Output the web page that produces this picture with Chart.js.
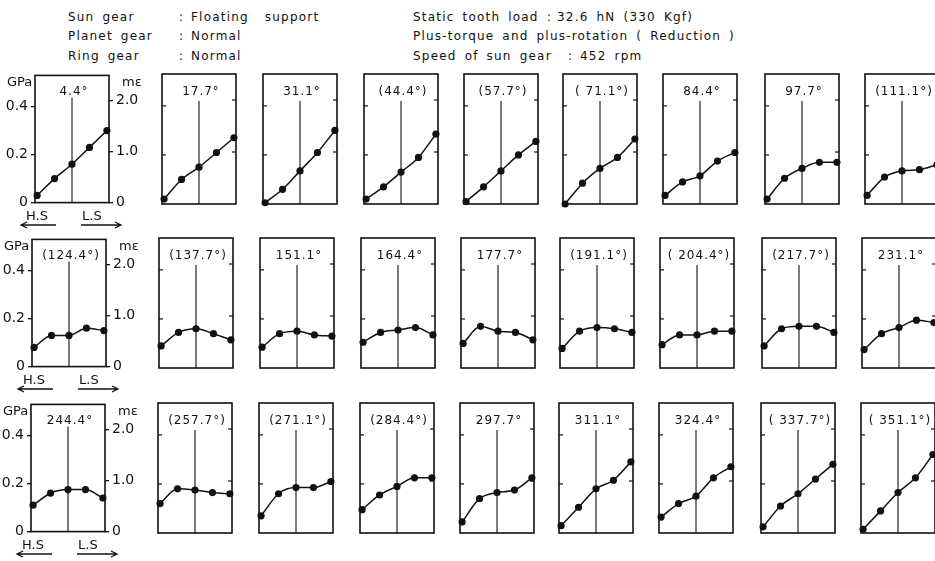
<!DOCTYPE html>
<html>
<head>
<meta charset="utf-8">
<script src="https://cdn.jsdelivr.net/npm/chart.js@4/dist/chart.umd.min.js"></script>
<style>
  html, body { margin:0; padding:0; background:#fff; }
  body { width:935px; height:561px; overflow:hidden; position:relative;
         font-family:"DejaVu Sans", sans-serif; color:#111; }
  .t { position:absolute; white-space:pre; font-size:12px; letter-spacing:1.2px; word-spacing:3px; line-height:14px; }
  .panel { position:absolute; }
  .ttl { position:absolute; white-space:pre; font-size:12px; letter-spacing:1px; line-height:14px;
         transform:translate(-50%,-50%); }
  .ax { position:absolute; white-space:pre; font-size:13px; line-height:14px; }
  svg { position:absolute; left:0; top:0; }
</style>
</head>
<body>
<svg id="arrows" width="935" height="561"></svg>
<script>
// Measuring points across the tooth root, from H.S side to L.S side
const positions = [0, 1, 2, 3, 4];

// Tick values of the two vertical scales
const gpaTicks = [0, 0.2, 0.4];
const strainTicks = [0, 1.0, 2.0];

// Rotation angle of the sun gear for each panel
const row1Angles = ["4.4°", "17.7°", "31.1°", "(44.4°)", "(57.7°)", "( 71.1°)", "84.4°", "97.7°", "(111.1°)"];
const row2Angles = ["(124.4°)", "(137.7°)", "151.1°", "164.4°", "177.7°", "(191.1°)", "( 204.4°)", "(217.7°)", "231.1°"];
const row3Angles = ["244.4°", "(257.7°)", "(271.1°)", "(284.4°)", "297.7°", "311.1°", "324.4°", "( 337.7°)", "( 351.1°)"];

// Root stress (GPa) at the five measuring points
const row1Stress = [
  [0.03, 0.10, 0.16, 0.23, 0.30],
  [0.02, 0.10, 0.15, 0.21, 0.27],
  [0.005, 0.06, 0.135, 0.21, 0.30],
  [0.02, 0.07, 0.13, 0.19, 0.285],
  [0.01, 0.07, 0.135, 0.20, 0.255],
  [0.0, 0.085, 0.145, 0.19, 0.265],
  [0.035, 0.09, 0.115, 0.175, 0.21],
  [0.02, 0.105, 0.145, 0.17, 0.17],
  [0.035, 0.11, 0.135, 0.14, 0.16]
];
const row2Stress = [
  [0.08, 0.13, 0.13, 0.16, 0.15],
  [0.09, 0.145, 0.16, 0.14, 0.115],
  [0.085, 0.14, 0.15, 0.135, 0.13],
  [0.105, 0.145, 0.155, 0.165, 0.135],
  [0.10, 0.17, 0.15, 0.145, 0.115],
  [0.08, 0.15, 0.165, 0.16, 0.145],
  [0.095, 0.135, 0.135, 0.15, 0.15],
  [0.09, 0.16, 0.17, 0.17, 0.145],
  [0.075, 0.14, 0.165, 0.195, 0.185]
];
const row3Stress = [
  [0.11, 0.16, 0.175, 0.175, 0.14],
  [0.12, 0.18, 0.175, 0.165, 0.16],
  [0.07, 0.16, 0.185, 0.185, 0.21],
  [0.095, 0.155, 0.19, 0.225, 0.225],
  [0.045, 0.14, 0.165, 0.175, 0.225],
  [0.03, 0.105, 0.18, 0.215, 0.29],
  [0.065, 0.12, 0.15, 0.225, 0.27],
  [0.025, 0.11, 0.16, 0.22, 0.28],
  [0.015, 0.09, 0.165, 0.225, 0.32]
];

// Layout of the panel grid
const COL_LEFT = [32, 159, 260, 361, 461, 560, 660, 762, 862];
const ROW_TOP = [74, 238, 403];
const ROW_SHIFT = [3, 0, -1];
const PANEL_W = 74, PANEL_H = 130, PAD = 10;
const FONT = "DejaVu Sans";

// Header text
const headerItems = [
  ["Sun gear", 68, 17], [":", 179, 17], ["Floating  support", 191, 17],
  ["Planet gear", 68, 36], [":", 179, 36], ["Normal", 191, 36],
  ["Ring gear", 68, 56], [":", 179, 56], ["Normal", 191, 56],
  ["Static tooth load", 413, 17], [":", 547, 17], ["32.6 hN (330 Kgf)", 557, 17],
  ["Plus-torque and plus-rotation ( Reduction )", 413, 36],
  ["Speed of sun gear", 413, 56], [":", 568, 56], ["452 rpm", 580, 56]
];
function addText(cls, txt, x, y) {
  const d = document.createElement('div');
  d.className = cls; d.textContent = txt;
  d.style.left = x + 'px'; d.style.top = y + 'px';
  document.body.appendChild(d);
  return d;
}
headerItems.forEach(([s, x, y]) => addText('t', s, x, y - 7));

// Frame, centre line and inner ticks of each panel
const panelFrame = {
  id: 'panelFrame',
  beforeDatasetsDraw(chart, args, opts) {
    const { ctx, chartArea: a, scales } = chart;
    ctx.save();
    ctx.strokeStyle = '#111';
    ctx.lineWidth = 1.6;
    ctx.strokeRect(a.left, a.top, a.right - a.left, a.bottom - a.top);
    const cx = scales.x.getPixelForValue(2);
    ctx.lineWidth = 1.1;
    ctx.beginPath(); ctx.moveTo(cx, a.top + (opts.first ? 22 : 27)); ctx.lineTo(cx, a.bottom); ctx.stroke();
    if (!opts.first) {
      ctx.lineWidth = 1.2;
      gpaTicks.slice(1).forEach(v => {
        const y = scales.y.getPixelForValue(v);
        ctx.beginPath(); ctx.moveTo(a.left, y); ctx.lineTo(a.left + 4, y); ctx.stroke();
      });
      strainTicks.slice(1).forEach(v => {
        const y = scales.y2.getPixelForValue(v);
        ctx.beginPath(); ctx.moveTo(a.right - 4, y); ctx.lineTo(a.right, y); ctx.stroke();
      });
    }
    ctx.restore();
  }
};

function tickLabel(v) { return v === 0 ? '0' : Number(v).toFixed(1); }

function makePanel(row, col, label, values) {
  const L = COL_LEFT[col] + ROW_SHIFT[row];
  const T = ROW_TOP[row];
  const first = col === 0;
  const left = first ? 0 : L - PAD;
  const width = first ? L + PANEL_W + 45 : PANEL_W + 2 * PAD;
  const height = PANEL_H + 2 * PAD;

  const wrap = document.createElement('div');
  wrap.className = 'panel';
  wrap.style.left = left + 'px';
  wrap.style.top = (T - PAD) + 'px';
  const cv = document.createElement('canvas');
  cv.width = width; cv.height = height;
  cv.style.width = width + 'px'; cv.style.height = height + 'px';
  wrap.appendChild(cv);
  document.body.appendChild(wrap);

  const axis = (pos, max, ticksArr, w) => {
    const o = { position: pos, min: 0, max: max, display: first };
    if (first) {
      Object.assign(o, {
        afterFit: s => { s.width = w; },
        afterBuildTicks: s => { s.ticks = ticksArr.map(v => ({ value: v })); },
        ticks: { callback: tickLabel, font: { family: FONT, size: 14 }, color: '#111', padding: 3 },
        grid: { drawOnChartArea: false, drawTicks: true, tickLength: 4, color: '#111', lineWidth: 1.3 },
        border: { display: false }
      });
    }
    return o;
  };

  new Chart(cv, {
    type: 'line',
    data: {
      datasets: [{
        data: positions.map((p, i) => ({ x: p, y: values[i] })),
        borderColor: '#111',
        borderWidth: 1.5,
        pointRadius: 3.6,
        pointBackgroundColor: '#111',
        pointBorderWidth: 0,
        cubicInterpolationMode: 'monotone',
        clip: false,
        yAxisID: 'y'
      }]
    },
    options: {
      responsive: false,
      animation: false,
      devicePixelRatio: 1,
      events: [],
      layout: { padding: first ? { left: 0, right: 0, top: PAD, bottom: PAD } : PAD },
      plugins: { legend: { display: false }, tooltip: { enabled: false }, panelFrame: { first } },
      scales: {
        x: { type: 'linear', min: -0.12, max: 4.12, display: false },
        y: axis('left', 0.53, gpaTicks, L),
        y2: axis('right', 2.5, strainTicks, 45)
      }
    },
    plugins: [panelFrame]
  });

  addText('ttl', label, L + PANEL_W / 2 + 2, T + 17);

  if (first) {
    addText('ax', 'GPa', L - 28, T + 1);
    addText('ax', 'mε', L + PANEL_W + 13, T + 1);
    const b = T + PANEL_H;
    addText('ax', 'H.S', L - 9, b + 5);
    addText('ax', 'L.S', L + 47, b + 5);
    drawArrow(L - 14, L + 21, b + 21, -1);
    drawArrow(L + 46, L + 86, b + 21, 1);
  }
}

// Direction arrows under the first column
function drawArrow(x1, x2, y, dir) {
  const svg = document.getElementById('arrows');
  const ns = 'http://www.w3.org/2000/svg';
  const p = document.createElementNS(ns, 'path');
  const tip = dir < 0 ? x1 : x2;
  const back = dir < 0 ? tip + 6 : tip - 6;
  p.setAttribute('d', `M${x1} ${y} L${x2} ${y} M${back} ${y - 3} L${tip} ${y} L${back} ${y + 3}`);
  p.setAttribute('stroke', '#111');
  p.setAttribute('stroke-width', '1.3');
  p.setAttribute('fill', 'none');
  svg.appendChild(p);
}

[[row1Angles, row1Stress], [row2Angles, row2Stress], [row3Angles, row3Stress]]
  .forEach(([angles, stress], r) => {
    angles.forEach((a, c) => makePanel(r, c, a, stress[c]));
  });
</script>
</body>
</html>
